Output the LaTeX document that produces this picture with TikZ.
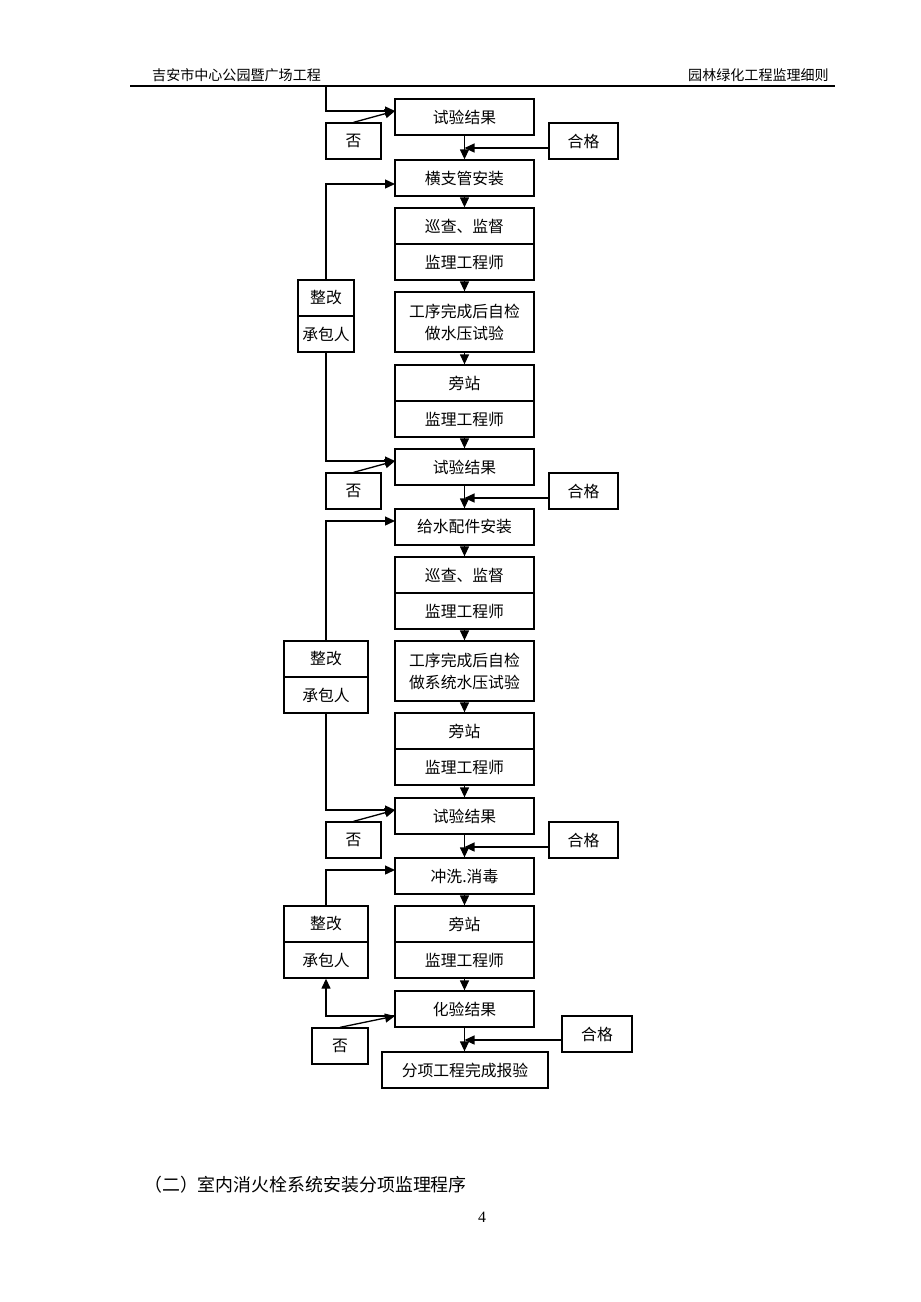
\documentclass[tikz,border=0pt]{standalone}
\usepackage{fontspec}
\setmainfont{Noto Sans CJK SC}
\newfontfamily\numfont{Liberation Serif}
\usetikzlibrary{arrows.meta,positioning}

\begin{document}
\begin{tikzpicture}[x=0.02cm, y=-0.02cm,
  box/.style={rectangle, draw, line width=0.75pt, minimum width=2.78cm, minimum height=0.72cm, inner sep=0pt, align=center, font=\fontsize{9}{12.5}\selectfont},
  small/.style={box, minimum width=1.1cm},
  arr/.style={line width=0.75pt, -{Triangle[length=2mm,width=1.8mm]}}]
\useasboundingbox (0,0) rectangle (920,1302);

% page header
\node[anchor=west, font=\fontsize{8}{10}\selectfont] (hl) at (146,75) {吉安市中心公园暨广场工程};
\node[anchor=east, font=\fontsize{8}{10}\selectfont] (hr) at (835,75) {园林绿化工程监理细则};
\draw[line width=0.75pt] (130,86) -- (835,86);
\coordinate (t0) at (326,86);

% first test
\node[box] (res1) at (464.5,117) {试验结果};
\node[small] (no1) at (353.5,141) {否};
\node[small, minimum width=1.38cm] (ok1) at (583.5,141) {合格};

% branch pipes
\node[box] (pipe) at (464.5,178) {横支管安装};
\node[box] (chk1a) at (464.5,226) {巡查、监督};
\node[box] (chk1b) at (464.5,262) {监理工程师};
\node[box, minimum height=1.2cm] (self1) at (464.5,322) {工序完成后自检\\做水压试验};
\node[box] (side1a) at (464.5,383) {旁站};
\node[box] (side1b) at (464.5,419) {监理工程师};
\node[box] (res2) at (464.5,467) {试验结果};
\node[small] (no2) at (353.5,491) {否};
\node[small, minimum width=1.38cm] (ok2) at (583.5,491) {合格};
\node[small, minimum width=1.12cm] (fix1a) at (326,298) {整改};
\node[small, minimum width=1.12cm] (fix1b) at (326,334) {承包人};

% fittings
\node[box] (fit) at (464.5,527) {给水配件安装};
\node[box] (chk2a) at (464.5,575) {巡查、监督};
\node[box] (chk2b) at (464.5,611) {监理工程师};
\node[box, minimum height=1.2cm] (self2) at (464.5,671) {工序完成后自检\\做系统水压试验};
\node[box] (side2a) at (464.5,731) {旁站};
\node[box] (side2b) at (464.5,767) {监理工程师};
\node[box] (res3) at (464.5,816) {试验结果};
\node[small] (no3) at (353.5,840) {否};
\node[small, minimum width=1.38cm] (ok3) at (583.5,840) {合格};
\node[small, minimum width=1.68cm] (fix2a) at (326,659) {整改};
\node[small, minimum width=1.68cm] (fix2b) at (326,695) {承包人};

% flushing
\node[box] (wash) at (464.5,876) {冲洗.消毒};
\node[box] (side3a) at (464.5,924) {旁站};
\node[box] (side3b) at (464.5,960) {监理工程师};
\node[small, minimum width=1.68cm] (fix3a) at (326,924) {整改};
\node[small, minimum width=1.68cm] (fix3b) at (326,960) {承包人};
\node[box] (res4) at (464.5,1009) {化验结果};
\node[small, minimum width=1.12cm] (no4) at (340,1046) {否};
\node[small, minimum width=1.4cm] (ok4) at (597,1034) {合格};
\node[box, minimum width=3.32cm] (done) at (465,1070) {分项工程完成报验};

% main flow
\draw[arr] (res1) -- (pipe);
\draw[arr] (pipe) -- (chk1a);
\draw[arr] (chk1b) -- (self1);
\draw[arr] (self1) -- (side1a);
\draw[arr] (side1b) -- (res2);
\draw[arr] (res2) -- (fit);
\draw[arr] (fit) -- (chk2a);
\draw[arr] (chk2b) -- (self2);
\draw[arr] (self2) -- (side2a);
\draw[arr] (side2b) -- (res3);
\draw[arr] (res3) -- (wash);
\draw[arr] (wash) -- (side3a);
\draw[arr] (side3b) -- (res4);
\draw[arr] (res4.south) -- (res4.south |- done.north);

% pass arrows
\coordinate (m1) at (464.5,148);
\coordinate (m2) at (464.5,498);
\coordinate (m3) at (464.5,847);
\coordinate (m4) at (464.5,1040);
\draw[arr] (ok1.west |- m1) -- (m1);
\draw[arr] (ok2.west |- m2) -- (m2);
\draw[arr] (ok3.west |- m3) -- (m3);
\draw[arr] (ok4.west |- m4) -- (m4);

% rework loops
\coordinate (in1) at (395,111);
\coordinate (up1) at (395,184);
\coordinate (in2) at (395,461);
\coordinate (up2) at (395,521);
\coordinate (in3) at (395,810);
\coordinate (up3) at (395,870);
\coordinate (in4) at (395,1016);
\draw[arr] (t0) |- (in1);
\draw[arr] (no1.north) -- (in1);
\draw[arr] (fix1a.north) |- (up1);
\draw[arr] (fix1b.south) |- (in2);
\draw[arr] (no2.north) -- (in2);
\draw[arr] (fix2a.north) |- (up2);
\draw[arr] (fix2b.south) |- (in3);
\draw[arr] (no3.north) -- (in3);
\draw[arr] (fix3a.north) |- (up3);
\draw[arr] (in4) -| (fix3b.south);
\draw[arr] (no4.north) -- (in4);

% next section
\node[anchor=west, font=\fontsize{10.2}{13}\selectfont] (sec) at (138,1185) {（二）室内消火栓系统安装分项监理程序};
\node[font=\numfont\fontsize{9}{11}\selectfont] (pg) at (482,1217) {4};
\end{tikzpicture}
\end{document}
